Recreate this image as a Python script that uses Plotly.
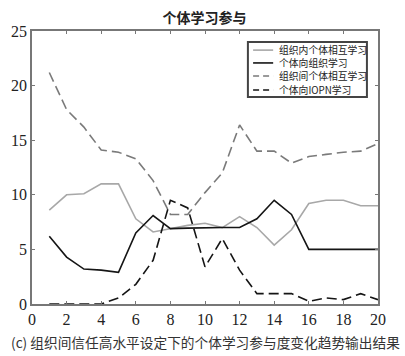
import plotly.graph_objects as go

x = list(range(1, 21))
names = ["组织内个体相互学习", "个体向组织学习", "组织间个体相互学习", "个体向IOPN学习"]
intra_org = [8.6, 10.0, 10.1, 11.0, 11.0, 7.8, 6.6, 6.9, 7.2, 7.4, 7.0, 8.0, 7.0, 5.4, 6.8, 9.2, 9.5, 9.5, 9.0, 9.0]
to_org = [6.2, 4.3, 3.2, 3.1, 2.9, 6.5, 8.1, 6.9, 6.95, 7.0, 7.0, 7.0, 7.8, 9.5, 8.2, 5.0, 5.0, 5.0, 5.0, 5.0]
inter_org = [21.2, 17.8, 16.2, 14.1, 13.9, 13.3, 11.3, 8.2, 8.2, 10.2, 12.0, 16.4, 14.0, 14.0, 12.9, 13.5, 13.7, 13.9, 14.0, 14.7]
to_iopn = [0, 0, 0, 0, 0.55, 1.8, 4.0, 9.5, 8.8, 3.4, 6.0, 3.1, 0.95, 0.95, 0.95, 0.25, 0.55, 0.4, 0.95, 0.4]

title = "个体学习参与"
caption = "(c) 组织间信任高水平设定下的个体学习参与度变化趋势输出结果"
x_ticks = [0, 2, 4, 6, 8, 10, 12, 14, 16, 18, 20]
y_ticks = [0, 5, 10, 15, 20, 25]

series = [intra_org, to_org, inter_org, to_iopn]
styles = [("#a8a8a8", "solid"), ("#151515", "solid"), ("#7a7a7a", "10px,5px"), ("#151515", "10px,5px")]

fig = go.Figure()
for name, ys, (c, d) in zip(names, series, styles):
    fig.add_trace(go.Scatter(x=x, y=ys, mode="lines", name=name, showlegend=False,
                             line=dict(color=c, dash=d, width=1.6)))

fig.update_layout(
    width=405, height=356,
    margin=dict(l=32, r=27, t=31, b=52),
    paper_bgcolor="white", plot_bgcolor="white",
    title=dict(text="<b>" + title + "</b>", x=0.505, xanchor="center", y=0.95, yanchor="middle",
               font=dict(family="Noto Sans CJK SC", size=14, color="#222")),
    showlegend=False,
)
axis_common = dict(showline=True, linecolor="#777", linewidth=1.5, mirror="ticks",
                   ticks="inside", ticklen=3, tickcolor="#777", showgrid=False, zeroline=False,
                   tickfont=dict(family="Times New Roman, Liberation Serif, DejaVu Serif, serif", size=16, color="#222"))
fig.update_xaxes(range=[0, 20], tickvals=x_ticks, **axis_common)
fig.update_yaxes(range=[0, 25], tickvals=y_ticks, **axis_common)

# manual legend box (matplotlib-like compact legend)
fig.add_shape(type="rect", xref="paper", yref="paper", x0=0.624, x1=0.968, y0=0.758, y1=0.960,
              line=dict(color="#444", width=2), fillcolor="white", layer="above")
rows = [0.930, 0.883, 0.835, 0.784]
for name, (c, d), ry in zip(names, styles, rows):
    fig.add_shape(type="line", xref="paper", yref="paper", x0=0.639, x1=0.697, y0=ry, y1=ry,
                  line=dict(color=c, dash=("6px,4px" if d != "solid" else d), width=1.6), layer="above")
    fig.add_annotation(text=name, xref="paper", yref="paper", x=0.709, y=ry,
                       xanchor="left", yanchor="middle", showarrow=False,
                       font=dict(family="Noto Sans CJK SC", size=9.8, color="#222"))

fig.add_annotation(text=caption, xref="paper", yref="paper", x=0.5, y=-0.139,
                   xanchor="center", yanchor="middle", showarrow=False,
                   font=dict(family="Noto Sans CJK SC", size=13.7, color="#333"))

fig.write_html("out.html", config={"displayModeBar": False},
               post_script="document.body.style.margin='0';document.body.style.overflow='hidden';")
